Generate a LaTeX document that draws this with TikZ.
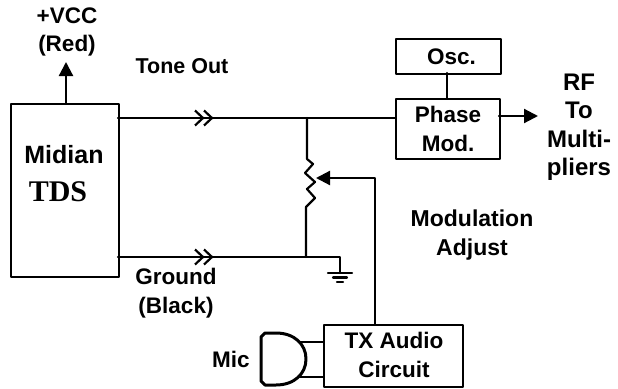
\documentclass[tikz,border=0pt]{standalone}
\usepackage{fontspec}
\setmainfont{Liberation Sans}
\newfontfamily\tdsfont{Liberation Serif}
\usetikzlibrary{arrows.meta}
\tikzset{
	wire/.style={line width=2.2pt},
	feed/.style={wire,-{Triangle[length=14pt,width=14pt]}},
	lbl/.style={font=\fontsize{22.5}{28.5}\selectfont\bfseries,align=center,inner sep=0pt},
	block/.style={draw,line width=2.2pt,inner sep=0pt,anchor=north west}
}
\begin{document}
\begin{tikzpicture}[x=1pt,y=-1pt,line join=round,line cap=round]
	\useasboundingbox (0,0) rectangle (618,388);
	% blocks
	\node[block,minimum width=108pt,minimum height=173pt] (midian) at (10,103) {};
	\node[block,minimum width=105pt,minimum height=35pt] (osc) at (394.5,38) {};
	\node[block,minimum width=104pt,minimum height=60pt] (phase) at (395,98) {};
	\node[block,minimum width=139pt,minimum height=62pt] (audio) at (323,324) {};
	% free ends and joints
	\coordinate (vcc) at (66,62);
	\coordinate (rf) at (538,116);
	\coordinate (toneA) at (118,118);
	\coordinate (toneB) at (395,118);
	\coordinate (gndA) at (118,257);
	\coordinate (potTop) at (307,118);
	\coordinate (potBot) at (307,257);
	\coordinate (gndB) at (340,257);
	\coordinate (gndC) at (340,273);
	\coordinate (wiper) at (316,178);
	\coordinate (bend) at (375,178);
	\coordinate (audioTop) at (375,324);
	% connectors
	\draw[feed] (66,103) -- (vcc);
	\draw[feed] (499,116) -- (rf);
	\draw[wire] (447,73) -- (447,98);
	\draw[wire] (toneA) -- (toneB);
	\draw[wire] (gndA) -- (gndB) -- (gndC);
	\draw[wire] (potTop) -- (307,159) -- (313,164) -- (305,173) -- (315,182) -- (307,189) -- (315,198) -- (306,207) -- (306,257);
	\draw[feed] (audioTop) -- (bend) -- (wiper);
	% plugs
	\foreach \x/\y in {195/118,204/118,195/257,204/257}
		\draw[wire,line cap=butt,miter limit=4,line join=miter,fill=none] (\x,\y-7.5) -- (\x+8,\y) -- (\x,\y+7.5);
	% ground
	\foreach \y/\w in {273/12,277.5/7,282/3}
		\draw[wire] (340-\w,\y) -- (340+\w,\y);
	% mic
	\draw[wire,line width=3pt] (276,333) -- (265,333) -- (261,337) -- (261,381) -- (265,385) -- (276,385) .. controls (294,385) and (306,374) .. (306,359) .. controls (306,344) and (294,333) .. (276,333);
	\draw[wire] (300,342) -- (323,342) (300,377) -- (323,377);
	% labels
	\node[lbl] (vcclbl) at (67,32) {+VCC\\(Red)};
	\node[lbl,font=\fontsize{21.5}{28.5}\selectfont\bfseries] (tonelbl) at (182,66) {Tone Out};
	\node[lbl,font=\fontsize{25}{30}\selectfont\bfseries] (midianlbl) at (64,155) {Midian};
	\node[lbl,font=\fontsize{30}{30}\selectfont\bfseries\tdsfont] (tdslbl) at (58,192) {TDS};
	\node[lbl] (oscbl) at (451.5,57) {Osc.};
	\node[lbl] (phaselbl) at (448,129) {Phase\\Mod.};
	\node[lbl,font=\fontsize{24}{28.5}\selectfont\bfseries] (rflbl) at (579,127) {RF\\To\\Multi-\\pliers};
	\node[lbl,font=\fontsize{23}{28.5}\selectfont\bfseries] (modlbl) at (472,235) {Modulation\\Adjust};
	\node[lbl] (gndlbl) at (176,293) {Ground\\(Black)};
	\node[lbl] (miclbl) at (231,359) {Mic};
	\node[lbl] (audiolbl) at (394,355) {TX Audio\\Circuit};
\end{tikzpicture}
\end{document}
